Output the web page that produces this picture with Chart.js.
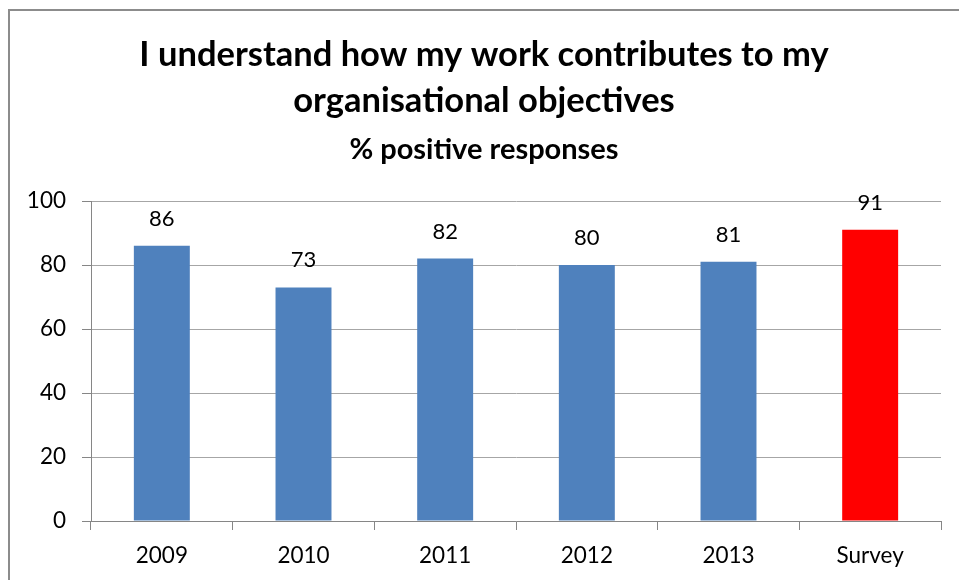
<!DOCTYPE html>
<html>
<head>
<meta charset="utf-8">
<script src="https://cdn.jsdelivr.net/npm/chart.js@4/dist/chart.umd.min.js"></script>
<style>
  html, body { margin: 0; padding: 0; background: #ffffff; overflow: hidden; }
  #frame {
    position: absolute; left: 8px; top: 9px; width: 1000px; height: 1000px;
    border: 2px solid #8c8c8c; box-sizing: border-box;
  }
  #wrap { position: absolute; left: 0; top: 0; width: 959px; height: 580px; }
</style>
</head>
<body>
<div id="frame"></div>
<div id="wrap"><canvas id="chart" width="959" height="580"></canvas></div>
<script>
// Survey results: share of positive responses per year
const categories = ['2009', '2010', '2011', '2012', '2013', 'Survey'];
const positiveShare = [86, 73, 82, 80, 81, 91];
const yTickValues = [0, 20, 40, 60, 80, 100];

const titleLines = ['I understand how my work contributes to my', 'organisational objectives'];
const subtitleText = '% positive responses';

const FONT = 'Lato, Calibri, Carlito, "Liberation Sans", sans-serif';
const BLUE = '#4F81BD';
const RED = '#FF0000';
const AXIS = '#868686';
const GRID = '#a6a6a6';

// Writes each bar's value centred above it
const valueLabels = {
  id: 'valueLabels',
  afterDatasetsDraw(chart) {
    const ctx = chart.ctx;
    const meta = chart.getDatasetMeta(0);
    const data = chart.data.datasets[0].data;
    ctx.save();
    ctx.font = '22px ' + FONT;
    ctx.fillStyle = '#000000';
    ctx.textAlign = 'center';
    ctx.textBaseline = 'middle';
    meta.data.forEach((bar, i) => {
      ctx.fillText(String(data[i]), bar.x, bar.y - 27);
    });
    ctx.restore();
  }
};

new Chart(document.getElementById('chart'), {
  type: 'bar',
  data: {
    labels: categories,
    datasets: [{
      data: positiveShare,
      backgroundColor: (c) => categories[c.dataIndex] === 'Survey' ? RED : BLUE,
      borderWidth: 0,
      categoryPercentage: 1,
      barPercentage: 0.395
    }]
  },
  options: {
    responsive: false,
    animation: false,
    events: [],
    layout: { padding: { left: 27, right: 18, top: 0, bottom: 0 } },
    plugins: {
      legend: { display: false },
      tooltip: { enabled: false },
      title: {
        display: true,
        text: titleLines,
        color: '#000000',
        font: { family: FONT, size: 34.5, weight: 'bold', lineHeight: 46 / 34.5 },
        padding: { top: 32, bottom: 0 }
      },
      subtitle: {
        display: true,
        text: subtitleText,
        color: '#000000',
        font: { family: FONT, size: 29, weight: 'bold', lineHeight: 1.2 },
        padding: { top: 7.8, bottom: 34.4 }
      }
    },
    scales: {
      x: {
        afterFit(scale) { scale.height = 59; },
        grid: {
          offset: true,
          drawOnChartArea: false,
          drawTicks: true,
          tickLength: 9,
          color: AXIS,
          tickColor: AXIS
        },
        border: { display: true, color: AXIS, width: 1 },
        ticks: {
          color: '#000000',
          font: { family: FONT, size: 22.5 },
          padding: 12,
          maxRotation: 0
        }
      },
      y: {
        min: 0,
        max: 100,
        afterFit(scale) { scale.width = 64; },
        afterBuildTicks(scale) { scale.ticks = yTickValues.map(v => ({ value: v })); },
        grid: {
          drawTicks: true,
          tickLength: 9,
          color: GRID,
          tickColor: AXIS
        },
        border: { display: true, color: AXIS, width: 1 },
        ticks: {
          color: '#000000',
          font: { family: FONT, size: 22.5 },
          padding: 16
        }
      }
    }
  },
  plugins: [valueLabels]
});
</script>
</body>
</html>
